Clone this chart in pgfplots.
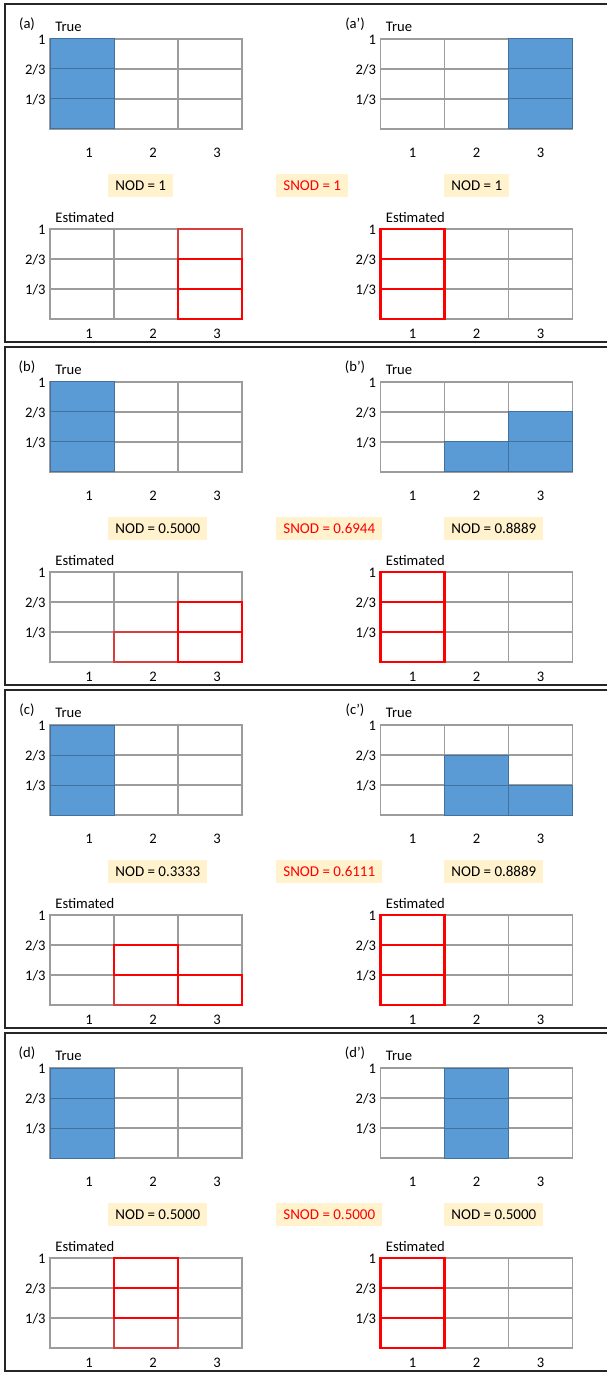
\documentclass[border=0pt]{standalone}
\usepackage{fontspec}
\setmainfont{Carlito}
\usepackage{pgfplots}
\pgfplotsset{compat=1.18}
\definecolor{tblue}{HTML}{5B9BD5}
\definecolor{tedge}{HTML}{41719C}
\definecolor{gridgray}{HTML}{9C9C9C}
\definecolor{boxfill}{HTML}{FFF2CC}
\newcommand\lbl{\fontsize{7.3}{8.5}\selectfont}
\newcommand\nodf{\fontsize{7.5}{9}\selectfont}
% true (filled) cell: x0 x1 y0 y1 (rows in thirds)
\newcommand\tcell[4]{\addplot[fill=tblue, draw=tedge, line width=0.5pt, mark=none] coordinates {(#1,#3) (#2,#3) (#2,#4) (#1,#4)} --cycle;}
% estimated cell, strong
\newcommand\ecell[4]{\addplot[draw=red, fill=none, line width=1.4pt, mark=none] coordinates {(#1,#3) (#2,#3) (#2,#4) (#1,#4)} --cycle;}
% estimated cell, light
\newcommand\lcell[4]{\addplot[draw=red, draw opacity=0.6, fill=none, line width=1.2pt, mark=none] coordinates {(#1,#3) (#2,#3) (#2,#4) (#1,#4)} --cycle;}
\pgfplotsset{
  cellgrid/.style={
    scale only axis, width=96pt, height=45pt, anchor=north west,
    xmin=0.5, xmax=3.5, ymin=0, ymax=3,
    xtick={1,2,3}, xticklabels={1,2,3},
    ytick={1,2,3}, yticklabels={1/3,2/3,1},
    minor xtick={1.5,2.5},
    xminorgrids=true, ymajorgrids=true,
    major tick length=0pt, minor tick length=0pt,
    axis line style={draw=gridgray, line width=0.6pt},
    major grid style={draw=gridgray, line width=0.6pt},
    minor grid style={draw=gridgray, line width=0.6pt},
    tick style={draw=none},
    ticklabel style={font=\lbl},
    yticklabel style={anchor=east, inner sep=0pt, xshift=-2pt, yshift=-0.4pt},
    /pgf/number format/assume math mode=true,
    clip=false,
  },
  truegrid/.style={cellgrid, xticklabel style={anchor=center, inner sep=0pt, yshift=-12pt}},
  estgrid/.style={cellgrid, xticklabel style={anchor=center, inner sep=0pt, yshift=-7.25pt}},
  leftgrid/.style={xticklabel style={xshift=3.5pt}},
}
\newcommand\plabel[2]{\node[font=\lbl, inner sep=0pt, xshift=#2, yshift=7.3pt] at (rel axis cs:0,1) {#1};}
\newcommand\ttitle[1]{\node[font=\lbl, inner sep=0pt, anchor=west, xshift=2.5pt, yshift=6pt] at (rel axis cs:0,1) {#1};}
\begin{document}
\begin{tikzpicture}
\path[use as bounding box] (0pt,0pt) rectangle (303.5pt,-687pt);
% panel frames
\foreach \n in {0,1,2,3}{
  \draw[line width=0.6pt, draw=black!85] (303.5pt,{-2pt-171.5pt*\n}) -- (2.5pt,{-2pt-171.5pt*\n}) -- (2.5pt,{-171pt-171.5pt*\n}) -- (303.5pt,{-171pt-171.5pt*\n});
}
% ================= (a) =================
\begin{axis}[truegrid, leftgrid, at={(25pt,-19.5pt)}]
\tcell{0.5}{1.5}{0}{1}\tcell{0.5}{1.5}{1}{2}\tcell{0.5}{1.5}{2}{3}
\plabel{(a)}{-11.5pt}\ttitle{True}
\end{axis}
\begin{axis}[truegrid, at={(190.25pt,-19.5pt)}]
\tcell{2.5}{3.5}{0}{1}\tcell{2.5}{3.5}{1}{2}\tcell{2.5}{3.5}{2}{3}
\plabel{(a’)}{-12.75pt}\ttitle{True}
\end{axis}
\begin{axis}[estgrid, leftgrid, at={(25pt,-114.5pt)}]
\lcell{2.5}{3.5}{2}{3}
\ecell{2.5}{3.5}{0}{1}\ecell{2.5}{3.5}{1}{2}
\ttitle{Estimated}
\end{axis}
\begin{axis}[estgrid, at={(190.25pt,-114.5pt)}]
\ecell{0.5}{1.5}{0}{1}\ecell{0.5}{1.5}{1}{2}\ecell{0.5}{1.5}{2}{3}
\ttitle{Estimated}
\end{axis}
\node[anchor=west, fill=boxfill, inner xsep=3.5pt, inner ysep=0pt, minimum height=11.5pt, font=\nodf] at (54pt,-92.75pt) {NOD = 1};
\node[anchor=west, fill=boxfill, inner xsep=3.5pt, inner ysep=0pt, minimum height=11.5pt, font=\nodf, text=red] at (138pt,-92.75pt) {SNOD = 1};
\node[anchor=west, fill=boxfill, inner xsep=3.5pt, inner ysep=0pt, minimum height=11.5pt, font=\nodf] at (222pt,-92.75pt) {NOD = 1};
% ================= (b) =================
\begin{axis}[truegrid, leftgrid, at={(25pt,-191pt)}]
\tcell{0.5}{1.5}{0}{1}\tcell{0.5}{1.5}{1}{2}\tcell{0.5}{1.5}{2}{3}
\plabel{(b)}{-11.5pt}\ttitle{True}
\end{axis}
\begin{axis}[truegrid, at={(190.25pt,-191pt)}]
\tcell{1.5}{2.5}{0}{1}\tcell{2.5}{3.5}{0}{1}\tcell{2.5}{3.5}{1}{2}
\plabel{(b’)}{-12.75pt}\ttitle{True}
\end{axis}
\begin{axis}[estgrid, leftgrid, at={(25pt,-286pt)}]
\lcell{1.5}{2.5}{0}{1}
\ecell{2.5}{3.5}{0}{1}\ecell{2.5}{3.5}{1}{2}
\ttitle{Estimated}
\end{axis}
\begin{axis}[estgrid, at={(190.25pt,-286pt)}]
\ecell{0.5}{1.5}{0}{1}\ecell{0.5}{1.5}{1}{2}\ecell{0.5}{1.5}{2}{3}
\ttitle{Estimated}
\end{axis}
\node[anchor=west, fill=boxfill, inner xsep=3.5pt, inner ysep=0pt, minimum height=11.5pt, font=\nodf] at (54pt,-264.25pt) {NOD = 0.5000};
\node[anchor=west, fill=boxfill, inner xsep=3.5pt, inner ysep=0pt, minimum height=11.5pt, font=\nodf, text=red] at (138pt,-264.25pt) {SNOD = 0.6944};
\node[anchor=west, fill=boxfill, inner xsep=3.5pt, inner ysep=0pt, minimum height=11.5pt, font=\nodf] at (222pt,-264.25pt) {NOD = 0.8889};
% ================= (c) =================
\begin{axis}[truegrid, leftgrid, at={(25pt,-362.5pt)}]
\tcell{0.5}{1.5}{0}{1}\tcell{0.5}{1.5}{1}{2}\tcell{0.5}{1.5}{2}{3}
\plabel{(c)}{-11.5pt}\ttitle{True}
\end{axis}
\begin{axis}[truegrid, at={(190.25pt,-362.5pt)}]
\tcell{1.5}{2.5}{0}{1}\tcell{1.5}{2.5}{1}{2}\tcell{2.5}{3.5}{0}{1}
\plabel{(c’)}{-12.75pt}\ttitle{True}
\end{axis}
\begin{axis}[estgrid, leftgrid, at={(25pt,-457.5pt)}]
\lcell{1.5}{2.5}{0}{1}
\ecell{1.5}{2.5}{1}{2}\ecell{2.5}{3.5}{0}{1}
\ttitle{Estimated}
\end{axis}
\begin{axis}[estgrid, at={(190.25pt,-457.5pt)}]
\ecell{0.5}{1.5}{0}{1}\ecell{0.5}{1.5}{1}{2}\ecell{0.5}{1.5}{2}{3}
\ttitle{Estimated}
\end{axis}
\node[anchor=west, fill=boxfill, inner xsep=3.5pt, inner ysep=0pt, minimum height=11.5pt, font=\nodf] at (54pt,-435.75pt) {NOD = 0.3333};
\node[anchor=west, fill=boxfill, inner xsep=3.5pt, inner ysep=0pt, minimum height=11.5pt, font=\nodf, text=red] at (138pt,-435.75pt) {SNOD = 0.6111};
\node[anchor=west, fill=boxfill, inner xsep=3.5pt, inner ysep=0pt, minimum height=11.5pt, font=\nodf] at (222pt,-435.75pt) {NOD = 0.8889};
% ================= (d) =================
\begin{axis}[truegrid, leftgrid, at={(25pt,-534pt)}]
\tcell{0.5}{1.5}{0}{1}\tcell{0.5}{1.5}{1}{2}\tcell{0.5}{1.5}{2}{3}
\plabel{(d)}{-11.5pt}\ttitle{True}
\end{axis}
\begin{axis}[truegrid, at={(190.25pt,-534pt)}]
\tcell{1.5}{2.5}{0}{1}\tcell{1.5}{2.5}{1}{2}\tcell{1.5}{2.5}{2}{3}
\plabel{(d’)}{-12.75pt}\ttitle{True}
\end{axis}
\begin{axis}[estgrid, leftgrid, at={(25pt,-629pt)}]
\lcell{1.5}{2.5}{0}{1}
\ecell{1.5}{2.5}{1}{2}\ecell{1.5}{2.5}{2}{3}
\ttitle{Estimated}
\end{axis}
\begin{axis}[estgrid, at={(190.25pt,-629pt)}]
\ecell{0.5}{1.5}{0}{1}\ecell{0.5}{1.5}{1}{2}\ecell{0.5}{1.5}{2}{3}
\ttitle{Estimated}
\end{axis}
\node[anchor=west, fill=boxfill, inner xsep=3.5pt, inner ysep=0pt, minimum height=11.5pt, font=\nodf] at (54pt,-607.25pt) {NOD = 0.5000};
\node[anchor=west, fill=boxfill, inner xsep=3.5pt, inner ysep=0pt, minimum height=11.5pt, font=\nodf, text=red] at (138pt,-607.25pt) {SNOD = 0.5000};
\node[anchor=west, fill=boxfill, inner xsep=3.5pt, inner ysep=0pt, minimum height=11.5pt, font=\nodf] at (222pt,-607.25pt) {NOD = 0.5000};
\end{tikzpicture}
\end{document}
